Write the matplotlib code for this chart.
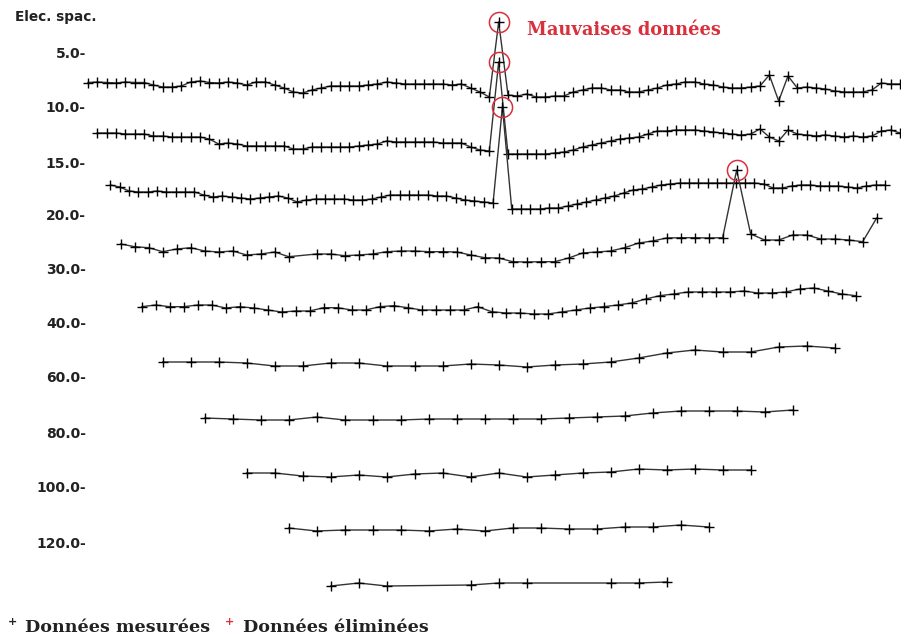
import numpy as np
import matplotlib
matplotlib.use('Agg')
import matplotlib.pyplot as plt

# Pseudo-section profile: one trace per electrode spacing
spacing_labels = ['5.0', '10.0', '15.0', '20.0', '30.0', '40.0', '60.0', '80.0', '100.0', '120.0']
label_levels = [52, 107, 162, 215, 269, 323, 377, 433, 487, 542]

# first station (m) and station step (m) of each trace
row_start = [0, 5, 12, 17.5, 28.75, 40, 62.5, 85, 107.5, 130]
row_step = [5, 5, 5, 7.5, 7.5, 15, 15, 15, 15, 15]

nan = np.nan
row1 = [82.5, 82, 82.5, 83, 82, 82.5, 82.5, 85, 87, 87, 86, 82, 81, 82.5, 83, 82, 83, 85, 82, 82,
        85, 88, 92, 93, 90, 88, 86, 86, 86, 86, 85, 84, 82, 83, 84, 84, 84, 84, 84, 85,
        84, 88, 92, 97, 22, 95, 96, 94, 97, 97, 96, 96, 92, 90, 88, 88, 90, 90, 92, 92,
        90, 88, 85, 84, 82, 82, 84, 85, 87, 88, 88, 87, 86, 75, 101, 76, 88, 87, 88, 89,
        91, 92, 92, 92, 90, 83, 84, 84]
row2 = [133, 133, 133, 134, 134, 134, 136, 136, 137, 137, 137, 137, 139, 144, 143, 144, 146, 146, 146, 146,
        146, 149, 149, 147, 147, 147, 147, 147, 146, 145, 144, 141, 142, 142, 142, 142, 142, 143, 143, 143,
        147, 150, 151, 62, 154, 154, 154, 154, 154, 153, 152, 150, 147, 145, 143, 141, 139, 138, 137, 134,
        131, 131, 130, 130, 130, 131, 132, 133, 134, 135, 134, 129, 137, 141, 130, 134, 135, 136, 135, 136,
        137, 136, 137, 136, 131, 130, 133]
row3 = [185, 187, 191, 192, 192, 191, 192, 192, 192, 192, 195, 197, 196, 197, 198, 199, 198, 197, 196, 198,
        202, 200, 199, 199, 199, 199, 200, 200, 199, 197, 195, 195, 195, 195, 195, 196, 196, 198, 200, 201,
        202, 203, 107, 209, 209, 209, 209, 208, 208, 206, 204, 202, 200, 198, 196, 193, 190, 189, 187, 185,
        184, 183, 183, 183, 183, 183, 183, 183, 183, 183, 184, 188, 188, 186, 185, 185, 186, 186, 186, 187,
        188, 186, 185, 185]
row4 = [244, 246.7, 247.7, 251.7, 249, 247.7, 251, 252, 251, 255, 254, 252, 256.7, nan, 254, 254, 255.7, 255,
        254, 251.7, 251, 251, 251.7, 251.7, 252, 255, 257.7, 258, 261.7, 262, 261.7, 261.7, 258, 253, 252,
        251, 247.7, 243, 241, 238, 237.7, 237.7, 238, 237.7, 170, 234, 240, 240, 235, 235, 239, 239, 240,
        241.7, 218]
row5 = [306.7, 305, 306.7, 306.7, 305, 305, 308, 306.7, 308, 310, 312, 311, 311, 307.7, 307.7, 310, 310,
        306.7, 305.7, 307.7, 310, 310, 310, 310, 306.7, 311.7, 313, 313, 314, 314, 312, 310, 308, 306.7,
        305, 303, 299, 295.7, 294, 292, 292, 292, 292, 291, 293, 293, 292, 289, 288, 291, 294, 295.7]
row6 = [362, 362, 362, 363, 366, 366, 363, 363, 366, 366, 366, 364, 365, 367, 365, 364, 362, 358, 353,
        350, 352, 352, 347, 346, 348]
row7 = [418, 419, 420, 420, 417, 420, 420, 420, 419, 419, 419, 419, 419, 418, 417, 416, 413, 411, 411,
        411, 412, 410]
row8 = [473, 473, 476, 477, 475, 477, 474, 473, 477, 473, 477, 475, 473, 472, 469, 470, 469, 470, 470]
row9 = [528, 531, 530, 530, 530, 531, 529, 531, 528, 528, 529, 529, 527, 527, 525, 527]
row10 = [586, 583, 586, nan, nan, 585, 583, 583, nan, nan, 583, 583, 582]
rows = [row1, row2, row3, row4, row5, row6, row7, row8, row9, row10]

# (trace, station index) of the rejected readings
bad_points = [(0, 44), (1, 43), (2, 42), (3, 44)]

px_per_m = 28 / 15.0
fig = plt.figure(figsize=(9.01, 6.42), dpi=100)
left = 88 / 901
ax = fig.add_axes([left, 0, 1 - left, 1])
ax.set_xlim(0, 813 / px_per_m)
ax.set_ylim(642, 0)

for i, vals in enumerate(rows):
    vals = np.array(vals, dtype=float)
    x = row_start[i] + row_step[i] * np.arange(len(vals))
    ok = ~np.isnan(vals)
    ax.plot(x[ok], vals[ok], color='#333333', lw=1.0, marker='+', ms=6.5, mew=1.0,
            mec='black', clip_on=False, zorder=2)

for r, k in bad_points:
    ax.plot(row_start[r] + row_step[r] * k, rows[r][k], marker='o', ms=14.5, mfc='none',
            mec='#d9303c', mew=1.1, zorder=3, clip_on=False)

ax.set_yticks(label_levels)
ax.set_yticklabels([s + '-' for s in spacing_labels], fontsize=10, fontweight='bold', color='#222222')
ax.tick_params(axis='y', length=0, pad=1.5)
ax.set_xticks([])
for s in ax.spines.values():
    s.set_visible(False)

fig.text(15 / 901, 1 - 17 / 642, 'Elec. spac.', fontsize=9.8, fontweight='bold', color='#222222',
         ha='left', va='center')
ax.text(527 / px_per_m - 88 / px_per_m, 30, 'Mauvaises données', family='DejaVu Serif',
        fontsize=12.9, fontweight='bold', color='#d9303c', ha='left', va='center')

fig.text(8 / 901, 1 - 622 / 642, '+', fontsize=8, fontweight='bold', color='#222222', ha='left', va='center')
fig.text(25 / 901, 1 - 627 / 642, 'Données mesurées', family='DejaVu Serif', fontsize=12.6,
         fontweight='bold', color='#222222', ha='left', va='center')
fig.text(225 / 901, 1 - 622 / 642, '+', fontsize=8, fontweight='bold', color='#d9303c', ha='left', va='center')
fig.text(243 / 901, 1 - 627 / 642, 'Données éliminées', family='DejaVu Serif', fontsize=12.6,
         fontweight='bold', color='#222222', ha='left', va='center')

fig.savefig('out.png', dpi=100)
